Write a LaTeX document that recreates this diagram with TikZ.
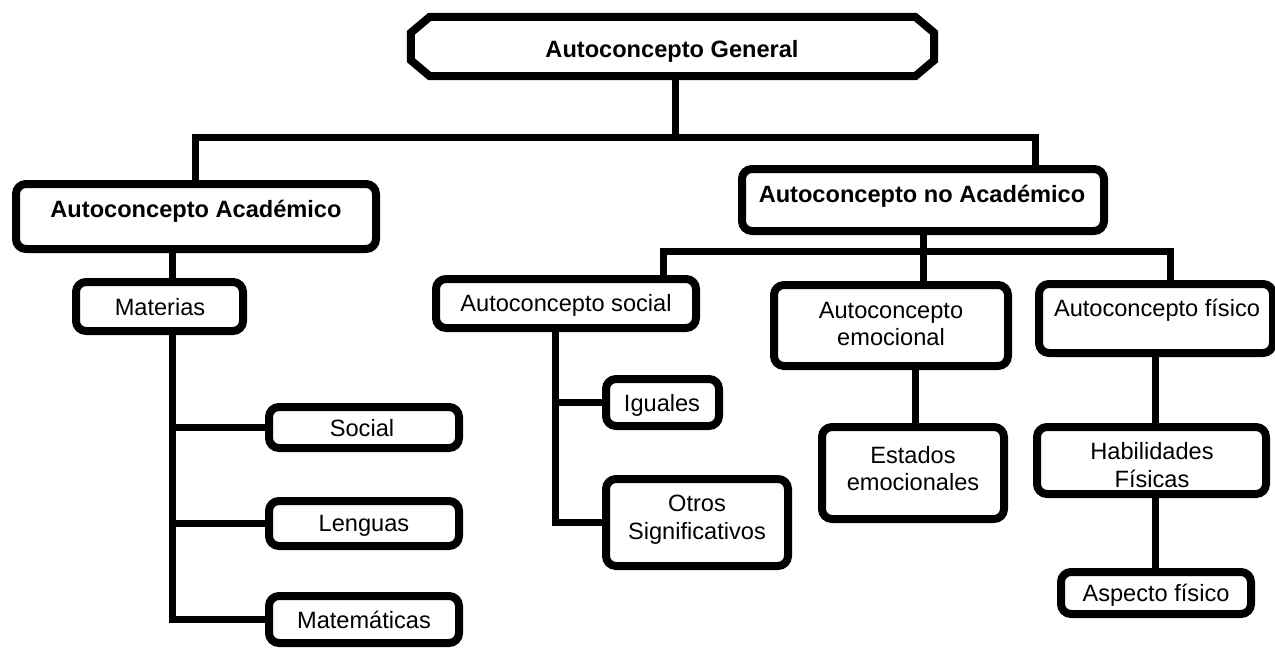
\documentclass[tikz,border=0pt]{standalone}
\usepackage{fontspec}
\setmainfont{Liberation Sans}
\usetikzlibrary{calc}
\begin{document}
\begin{tikzpicture}[x=1pt,y=-1pt,
  box/.style={draw, line width=8pt, rounded corners=10pt, inner sep=0pt, fill=white},
  link/.style={line width=7pt},
  lbl/.style={font=\fontsize{23.6pt}{27.5pt}\selectfont, align=center, inner sep=0pt},
  bold/.style={lbl, font=\bfseries\fontsize{23.6pt}{27.5pt}\selectfont},
  one/.style={text height=17pt, text depth=0pt}]
\useasboundingbox (0,0) rectangle (1275,648);

% spine and bus positions of the tree
\coordinate (b1L) at (195,137);
\coordinate (b1R) at (1035,137);
\coordinate (b2L) at (663,251);
\coordinate (b2R) at (1170,251);
\coordinate (spA) at (172,617);
\coordinate (spB) at (555,522);
\coordinate (spC) at (915,0);
\coordinate (spD) at (1155,0);

% boxes
\node[minimum width=523pt, minimum height=59pt, inner sep=0pt] (gen) at (672.5,46.5) {};
\node[box, minimum width=360pt, minimum height=65pt] (acad) at (196,216.5) {};
\node[box, minimum width=362pt, minimum height=62pt] (noacad) at (923,200) {};
\node[box, minimum width=167pt, minimum height=49pt] (mat) at (159.5,306.5) {};
\node[box, minimum width=190pt, minimum height=41pt] (sSoc) at (364,427.5) {};
\node[box, minimum width=190pt, minimum height=45pt] (sLen) at (364,523.5) {};
\node[box, minimum width=190pt, minimum height=47pt] (sMat) at (364,619.5) {};
\node[box, minimum width=260pt, minimum height=49pt] (soc) at (566,303.5) {};
\node[box, minimum width=113pt, minimum height=47pt] (igu) at (662.5,402.5) {};
\node[box, minimum width=182pt, minimum height=87pt] (otros) at (697,522.5) {};
\node[box, minimum width=234pt, minimum height=81pt] (emo) at (891,325.5) {};
\node[box, minimum width=182pt, minimum height=92pt] (est) at (913,473) {};
\node[box, minimum width=234pt, minimum height=69pt] (fis) at (1156,318.5) {};
\node[box, minimum width=229pt, minimum height=67pt] (hab) at (1151.5,460.5) {};
\node[box, minimum width=190pt, minimum height=42pt] (asp) at (1156,593) {};

% chamfered outline of the root
\draw[line width=8pt]
  ([xshift=19pt]gen.north west) -- ([xshift=-19pt]gen.north east)
  -- ([yshift=-16pt]gen.north east) -- ([yshift=16pt]gen.south east)
  -- ([xshift=-19pt]gen.south east) -- ([xshift=19pt]gen.south west)
  -- ([yshift=16pt]gen.south west) -- ([yshift=-16pt]gen.north west) -- cycle;

% connectors
\draw[link] ($(gen.south)+(2.5pt,0)$) -- ($(gen.south |- b1L)+(2.5pt,0)$);
\draw[link] (acad.north -| b1L) -- (b1L) -- (b1R) -- (b1R |- noacad.north);
\draw[link] (noacad.south) -- (noacad.south |- b2L);
\draw[link] (soc.north -| b2L) -- (b2L) -- (b2R) -- (b2R |- fis.north);
\draw[link] (noacad.south |- b2L) -- (noacad.south |- emo.north);
\draw[link] (acad.south -| spA) -- (mat.north -| spA);
\draw[link] (mat.south -| spA) -- (spA |- sMat.west) -- (sMat.west);
\draw[link] (spA |- sSoc.west) -- (sSoc.west);
\draw[link] (spA |- sLen.west) -- (sLen.west);
\draw[link] (soc.south -| spB) -- (spB |- otros.west) -- (otros.west);
\draw[link] (spB |- igu.west) -- (igu.west);
\draw[link] (emo.south -| spC) -- (est.north -| spC);
\draw[link] (fis.south -| spD) -- (hab.north -| spD);
\draw[link] (hab.south -| spD) -- (asp.north -| spD);

% labels
\node[bold, one] (tGen) at (672,49) {Autoconcepto General};
\node[bold, one] (tAcad) at (196,209) {Autoconcepto Académico};
\node[bold, one] (tNoacad) at (922,194) {Autoconcepto no Académico};
\node[lbl, one] (tMat) at (160,307) {Materias};
\node[lbl, one] (tsSoc) at (362,428) {Social};
\node[lbl, one] (tsLen) at (364,523) {Lenguas};
\node[lbl, one] (tsMat) at (364,620) {Matemáticas};
\node[lbl, one] (tSoc) at (566,303) {Autoconcepto social};
\node[lbl, one] (tIgu) at (662,403) {Iguales};
\node[lbl] (tOtros) at (697,519.5) {Otros\\Significativos};
\node[lbl] (tEmo) at (891,324) {Autoconcepto\\emocional};
\node[lbl] (tEst) at (913,468.5) {Estados\\emocionales};
\node[lbl, one] (tFis) at (1157,308) {Autoconcepto físico};
\node[lbl] (tHab) at (1152,465) {Habilidades\\Físicas};
\node[lbl, one] (tAsp) at (1156,593) {Aspecto físico};
\end{tikzpicture}
\end{document}
